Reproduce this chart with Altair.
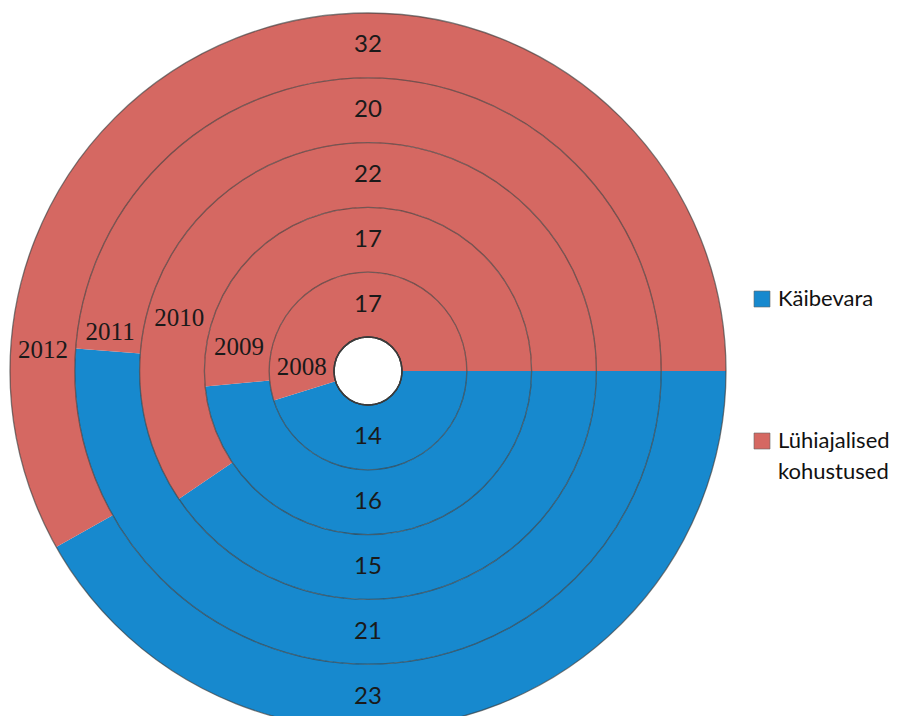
import math
import altair as alt
import pandas as pd

# ---- data ----
years = ["2008", "2009", "2010", "2011", "2012"]
kaibevara = [14, 16, 15, 21, 23]          # blue (lower half)
kohustused = [17, 17, 22, 20, 32]         # red (upper half)
series_names = ["Käibevara", "Lühiajalised kohustused"]
series_colors = ["#1789CE", "#D56862"]

# label placement (styling): angle in degrees, clockwise from 12 o'clock
year_label_angles = [273.5, 280.4, 285.7, 278.6, 273.7]

# ---- table built from the arrays ----
rows = []
for i, (y, a, b) in enumerate(zip(years, kaibevara, kohustused)):
    frac = a / (a + b)
    rows.append(dict(year=y, ring=i, r_in=i, r_out=i + 1, r_mid=i + 0.5,
                     series=series_names[0], value=a, t0=0.0, t1=frac))
    rows.append(dict(year=y, ring=i, r_in=i, r_out=i + 1, r_mid=i + 0.5,
                     series=series_names[1], value=b, t0=frac, t1=1.0))
df = pd.DataFrame(rows)
rings = pd.DataFrame({"year": years, "r_out": list(range(1, len(years) + 1)),
                      "r_mid": [i + 0.5 for i in range(len(years))]})

CX, CY = 360, 363
HOLE, R = 34, 358
rscale = alt.Scale(type="linear", domain=[0, len(years)], range=[HOLE, R])
tscale = alt.Scale(type="linear", domain=[0, 1], range=[math.pi / 2, math.pi / 2 + 2 * math.pi])

base = alt.Chart(df)

legend = alt.Legend(
    title=None, orient="none", legendX=743, legendY=280,
    padding=0, symbolType="square", symbolSize=256,
    symbolStrokeWidth=0.6, symbolStrokeColor="#666",
    labelFont="Lato", labelFontSize=22, labelColor="#111",
    labelOffset=5, labelLimit=300, rowPadding=120,
    labelBaseline="alphabetic",
    labelExpr="split(datum.label, ' ')",
)

arcs = base.mark_arc(strokeWidth=0).encode(
    x=alt.value(CX), y=alt.value(CY),
    theta=alt.Theta("t0:Q", scale=tscale, stack=False),
    theta2="t1:Q",
    radius=alt.Radius("r_in:Q", scale=rscale, stack=False),
    radius2="r_out:Q",
    color=alt.Color("series:N",
                    scale=alt.Scale(domain=series_names, range=series_colors),
                    legend=legend),
)

circles = alt.Chart(rings).mark_arc(fillOpacity=0, stroke="#3a3a3a", strokeOpacity=0.65,
                                    strokeWidth=1.3).encode(
    x=alt.value(CX), y=alt.value(CY),
    theta=alt.value(0), theta2=alt.value(2 * math.pi),
    radius=alt.Radius("r_out:Q", scale=rscale, stack=False),
)

val_font = dict(font="Lato", fontSize=24, color="#1a1a1a", align="center", baseline="middle")

red_labels = base.transform_filter(alt.datum.series == series_names[1]).mark_text(**val_font).encode(
    x=alt.value(CX), y=alt.value(CY),
    theta=alt.value(0),
    radius=alt.Radius("r_mid:Q", scale=rscale, stack=False),
    text="value:Q",
)
blue_labels = base.transform_filter(alt.datum.series == series_names[0]).mark_text(**val_font).encode(
    x=alt.value(CX), y=alt.value(CY),
    theta=alt.value(math.pi),
    radius=alt.Radius("r_mid:Q", scale=rscale, stack=False),
    text="value:Q",
)

year_layers = []
for yr, ang in zip(years, year_label_angles):
    year_layers.append(
        alt.Chart(rings).transform_filter(alt.datum.year == yr)
        .mark_text(font="Liberation Serif", fontSize=25, color="#1a1a1a",
                   align="center", baseline="middle").encode(
            x=alt.value(CX), y=alt.value(CY),
            theta=alt.value(math.radians(ang)),
            radius=alt.Radius("r_mid:Q", scale=rscale, stack=False),
            text="year:N",
        )
    )

chart = alt.layer(arcs, circles, red_labels, blue_labels, *year_layers).properties(
    width=892, height=708, autosize=alt.AutoSizeParams(type="none"), padding=0
).configure(
    style={"guide-label": {"lineHeight": 31, "dy": 7}}
).configure_view(strokeWidth=0)

chart.save("out.html", embed_options={"renderer": "svg", "actions": False})
